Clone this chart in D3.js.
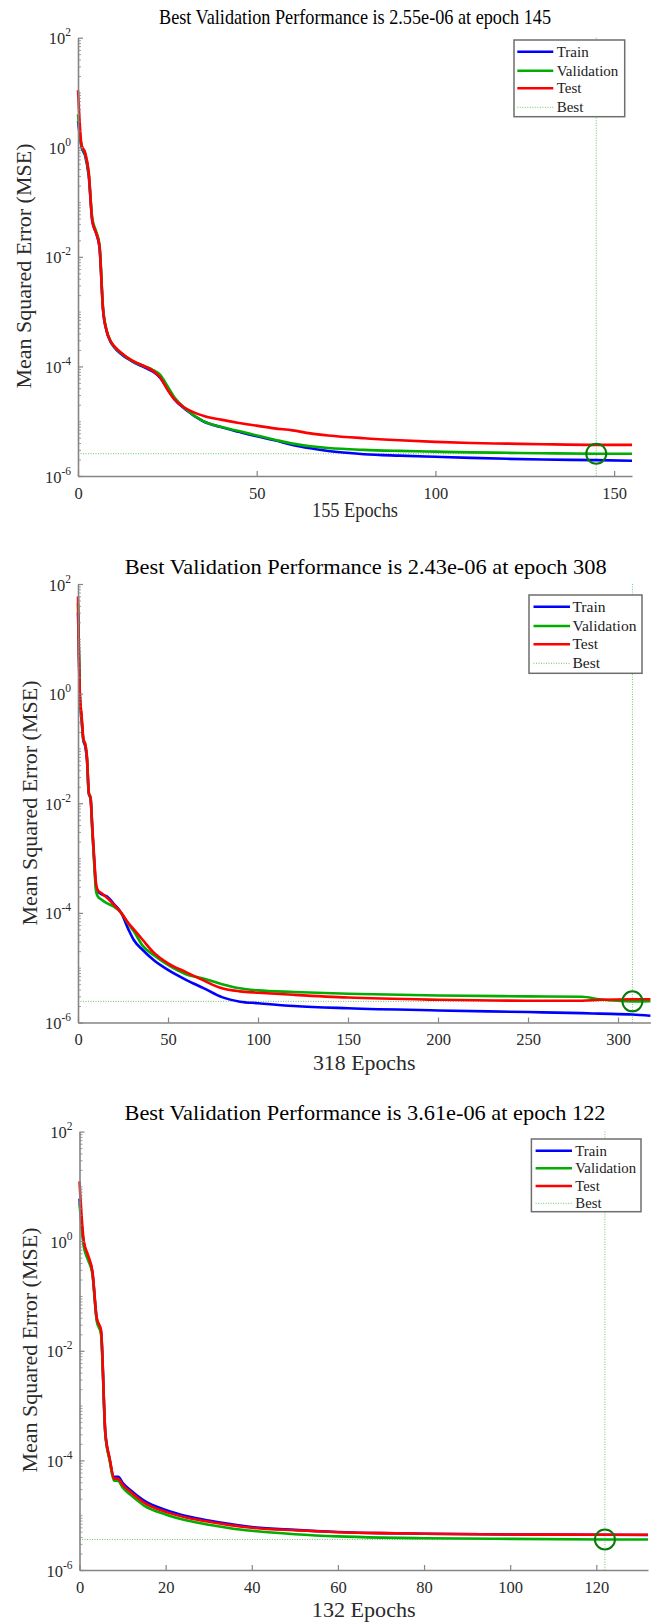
<!DOCTYPE html>
<html>
<head>
	<meta charset="utf-8">
	<title>Performance</title>
	<script src="https://d3js.org/d3.v7.min.js"></script>
	<style>
		body { margin: 0; background: #fff; }
		svg { display: block; font-family: "Liberation Serif", "Times New Roman", serif; }
		.best { stroke: #6cc46c; stroke-width: 1; stroke-dasharray: 1,1.5; }
	</style>
</head>
<body>
	<script>
		var seriesNames = ["Train", "Validation", "Test", "Best"];
		var seriesColors = ["#0000ff", "#00ad00", "#ff0000", "#6cc46c"];
		var titles = ["Best Validation Performance is 2.55e-06 at epoch 145",
			"Best Validation Performance is 2.43e-06 at epoch 308",
			"Best Validation Performance is 3.61e-06 at epoch 122"];
		var xLabels = ["155 Epochs", "318 Epochs", "132 Epochs"];
		var yTickExps = [2, 0, -2, -4, -6];
		var xTicks1 = [0, 50, 100, 150];
		var xTicks2 = [0, 50, 100, 150, 200, 250, 300];
		var xTicks3 = [0, 20, 40, 60, 80, 100, 120];

		// run 1
		var epochs1 = [0,1,2,3,4,5,6,7,8,9,10,12,15,18,21,23,25,27,30,35,40,45,50,55,60,65,70,80,90,100,110,120,130,145,155];
		var train1 = [3,1.0,0.7,0.3,0.045,0.028,0.015,1.1e-3,4.4e-4,2.9e-4,2.3e-4,1.7e-4,1.25e-4,1.0e-4,8.0e-5,6.2e-5,3.9e-5,2.5e-5,1.65e-5,1.0e-5,7.8e-6,6.4e-6,5.3e-6,4.5e-6,3.7e-6,3.2e-6,2.85e-6,2.5e-6,2.35e-6,2.24e-6,2.14e-6,2.06e-6,2.0e-6,1.95e-6,1.9e-6];
		var valid1 = [4,1.05,0.75,0.33,0.05,0.03,0.017,1.2e-3,4.6e-4,3.0e-4,2.35e-4,1.75e-4,1.28e-4,1.04e-4,8.6e-5,7.0e-5,4.4e-5,2.7e-5,1.7e-5,1.0e-5,7.9e-6,6.6e-6,5.5e-6,4.6e-6,3.9e-6,3.5e-6,3.25e-6,3.0e-6,2.87e-6,2.78e-6,2.7e-6,2.65e-6,2.6e-6,2.55e-6,2.55e-6];
		var test1 = [11,1.1,0.8,0.35,0.045,0.028,0.016,1.1e-3,4.5e-4,3.0e-4,2.4e-4,1.8e-4,1.3e-4,1.05e-4,8.3e-5,6.3e-5,3.8e-5,2.5e-5,1.74e-5,1.26e-5,1.07e-5,9.3e-6,8.3e-6,7.4e-6,6.8e-6,6.0e-6,5.5e-6,4.9e-6,4.5e-6,4.2e-6,4.0e-6,3.9e-6,3.8e-6,3.7e-6,3.7e-6];
		var best1 = [145, 2.55e-6];

		// run 2
		var epochs2 = [0,1,2,3,4,5,6,7,8,9,10,11,13,16,20,24,28,31,36,42,50,60,70,80,90,100,120,150,200,250,280,290,308,318];
		var train2 = [30,0.9,0.33,0.14,0.11,0.06,0.015,0.012,3.0e-3,9e-4,3.0e-4,2.5e-4,2.2e-4,2.0e-4,1.45e-4,1.0e-4,5.0e-5,3.2e-5,2.1e-5,1.38e-5,9.1e-6,6.0e-6,4.2e-6,2.9e-6,2.4e-6,2.25e-6,2.0e-6,1.82e-6,1.66e-6,1.55e-6,1.48e-6,1.45e-6,1.4e-6,1.33e-6];
		var valid2 = [45,1.0,0.35,0.14,0.12,0.065,0.015,0.013,3.0e-3,8e-4,2.5e-4,2.0e-4,1.75e-4,1.5e-4,1.3e-4,1.0e-4,6.3e-5,4.6e-5,2.5e-5,1.7e-5,1.12e-5,7.6e-6,6.3e-6,5.0e-6,4.2e-6,3.85e-6,3.6e-6,3.35e-6,3.1e-6,3.0e-6,2.95e-6,2.65e-6,2.43e-6,2.45e-6];
		var test2 = [59,1.0,0.4,0.15,0.12,0.07,0.016,0.012,3.5e-3,1.0e-3,3.5e-4,2.6e-4,2.3e-4,1.9e-4,1.4e-4,1.0e-4,6.5e-5,5.0e-5,3.2e-5,1.9e-5,1.2e-5,8.3e-6,5.8e-6,4.2e-6,3.7e-6,3.5e-6,3.2e-6,2.85e-6,2.6e-6,2.5e-6,2.5e-6,2.6e-6,2.65e-6,2.65e-6];
		var best2 = [308, 2.43e-6];

		// run 3
		var epochs3 = [0,1,2,3,4,5,6,7,8,9,10,12,15,20,25,30,35,40,50,60,70,80,100,122,132];
		var train3 = [6,0.9,0.5,0.27,0.038,0.022,3.1e-4,1.05e-4,5.0e-5,5.0e-5,3.9e-5,2.8e-5,1.85e-5,1.25e-5,9.6e-6,8.0e-6,6.9e-6,6.1e-6,5.4e-6,4.95e-6,4.7e-6,4.6e-6,4.45e-6,4.4e-6,4.35e-6];
		var valid3 = [5,0.8,0.45,0.25,0.035,0.02,3.0e-4,1.0e-4,4.3e-5,4.2e-5,3.2e-5,2.3e-5,1.5e-5,1.03e-5,8.0e-6,6.7e-6,5.8e-6,5.2e-6,4.5e-6,4.1e-6,3.9e-6,3.8e-6,3.7e-6,3.61e-6,3.6e-6];
		var test3 = [12.3,1.0,0.55,0.28,0.04,0.024,3.2e-4,1.1e-4,4.7e-5,4.6e-5,3.6e-5,2.6e-5,1.7e-5,1.15e-5,9.0e-6,7.6e-6,6.6e-6,5.9e-6,5.3e-6,4.9e-6,4.7e-6,4.6e-6,4.45e-6,4.4e-6,4.4e-6];
		var best3 = [122, 3.61e-6];

		// SET UP SVG
		var width = 654,
			height = 1624;
		var svg = d3.select("body").append("svg")
			.attr("width", width)
			.attr("height", height);

		// layout of each panel (the three figures were pasted at slightly different sizes)
		var panels = [
			{ epochs: epochs1, series: [train1, valid1, test1], best: best1, xmax: 155, xticks: xTicks1,
			  title: titles[0], xlabel: xLabels[0],
			  left: 78, right: 632, top: 37.7, bottom: 476,
			  titleX: 355, titleY: 24, titleLen: 392, xlabY: 517, xlabLen: 86, ylabX: 31, ylabY: 266,
			  legend: { x: 514, y: 40, w: 110.7, h: 76.7, rows: [51.7, 70.7, 88.3, 107.3], lineX: [517.3, 553.3], textX: 556.7, size: 15 } },
			{ epochs: epochs2, series: [train2, valid2, test2], best: best2, xmax: 318, xticks: xTicks2,
			  title: titles[1], xlabel: xLabels[1],
			  left: 78, right: 650.4, top: 584, bottom: 1022.5,
			  titleX: 365.7, titleY: 574, titleLen: 482, xlabY: 1069.5, xlabLen: 102.5, ylabX: 37, ylabY: 803,
			  legend: { x: 529, y: 595, w: 113, h: 78.3, rows: [606.7, 626, 644.3, 663.3], lineX: [533.5, 570], textX: 572.4, size: 15.6 } },
			{ epochs: epochs3, series: [train3, valid3, test3], best: best3, xmax: 132, xticks: xTicks3,
			  title: titles[2], xlabel: xLabels[2],
			  left: 79.5, right: 648, top: 1131.6, bottom: 1570,
			  titleX: 365, titleY: 1120, titleLen: 481, xlabY: 1616.7, xlabLen: 103.8, ylabX: 37, ylabY: 1350,
			  legend: { x: 531.4, y: 1139, w: 109.6, h: 72.7, rows: [1150.7, 1168.3, 1186, 1203.3], lineX: [535.6, 572], textX: 575.3, size: 14.8 } }
		];

		// minor log ticks 2..9 x 10^k plus the odd decades
		var minorTicks = [];
		for (var k = -6; k < 2; k++) {
			for (var m = 1; m < 10; m++) {
				if (m == 1 && k % 2 == 0) continue;
				minorTicks.push(m * Math.pow(10, k));
			}
		}

		function drawPanel(p) {
			var g = svg.append("g");
			var x = d3.scaleLinear().domain([0, p.xmax]).range([p.left, p.right]);
			var y = d3.scaleLog().domain([1e-6, 1e2]).range([p.bottom, p.top]);

			// title
			g.append("text")
				.attr("x", p.titleX).attr("y", p.titleY)
				.attr("text-anchor", "middle")
				.attr("font-size", 22)
				.attr("textLength", p.titleLen).attr("lengthAdjust", "spacingAndGlyphs")
				.attr("fill", "#000")
				.text(p.title);

			// best epoch guide lines
			var bx = x(p.best[0]), by = y(p.best[1]);
			g.append("line").attr("class", "best")
				.attr("x1", bx).attr("x2", bx).attr("y1", y(1e2)).attr("y2", y(1e-6));
			g.append("line").attr("class", "best")
				.attr("x1", x(0)).attr("x2", x(p.xmax)).attr("y1", by).attr("y2", by);

			// curves: train, validation, test (test on top)
			var line = d3.line()
				.x(function(d) { return x(d[0]); })
				.y(function(d) { return y(d[1]); })
				.curve(d3.curveMonotoneX);
			p.series.forEach(function(s, i) {
				g.append("path")
					.datum(d3.zip(p.epochs, s))
					.attr("d", line)
					.attr("fill", "none")
					.attr("stroke", seriesColors[i])
					.attr("stroke-width", 2.6)
					.attr("stroke-linejoin", "round");
			});

			// best circle
			g.append("circle")
				.attr("cx", bx).attr("cy", by).attr("r", 10)
				.attr("fill", "none")
				.attr("stroke", "#087a08")
				.attr("stroke-width", 2);

			// x axis, ticks pointing in
			var gx = g.append("g")
				.attr("transform", "translate(0," + p.bottom + ")")
				.attr("color", "#858585")
				.call(d3.axisBottom(x).tickValues(p.xticks).tickSizeInner(-5).tickSizeOuter(0).tickPadding(10.8));
			gx.select(".domain").attr("stroke-width", 1.6);
			gx.selectAll(".tick line").attr("stroke-width", 1.2);
			gx.selectAll(".tick text")
				.attr("font-size", 16.5)
				.attr("font-family", "Liberation Serif, serif")
				.attr("fill", "#2a2a2a");

			// y axis: minor then major ticks
			var gym = g.append("g")
				.attr("transform", "translate(" + p.left + ",0)")
				.attr("color", "#858585")
				.call(d3.axisLeft(y).tickValues(minorTicks).tickSizeInner(-3).tickSizeOuter(0).tickFormat(""));
			gym.select(".domain").remove();
			gym.selectAll(".tick line").attr("stroke-width", 0.8);

			var gy = g.append("g")
				.attr("transform", "translate(" + p.left + ",0)")
				.attr("color", "#858585")
				.call(d3.axisLeft(y).tickValues(yTickExps.map(function(e) { return Math.pow(10, e); }))
					.tickSizeInner(-5).tickSizeOuter(0).tickFormat(""));
			gy.select(".domain").attr("stroke-width", 1.6);
			gy.selectAll(".tick line").attr("stroke-width", 1.2);

			// 10^k labels
			yTickExps.forEach(function(e) {
				var t = g.append("text")
					.attr("x", p.left - 7)
					.attr("y", y(Math.pow(10, e)) + 6.5)
					.attr("text-anchor", "end")
					.attr("font-size", 16.5)
					.attr("fill", "#2a2a2a");
				t.append("tspan").text("10");
				t.append("tspan").attr("dy", -8).attr("font-size", 11.5).text(e);
			});

			// axis labels
			g.append("text")
				.attr("x", (p.left + p.right) / 2).attr("y", p.xlabY)
				.attr("text-anchor", "middle")
				.attr("font-size", 21.8)
				.attr("textLength", p.xlabLen).attr("lengthAdjust", "spacingAndGlyphs")
				.attr("fill", "#2a2a2a")
				.text(p.xlabel);
			g.append("text")
				.attr("transform", "translate(" + p.ylabX + "," + p.ylabY + ") rotate(-90)")
				.attr("text-anchor", "middle")
				.attr("font-size", 22)
				.attr("fill", "#2a2a2a")
				.text("Mean Squared Error (MSE)");

			// legend box
			var L = p.legend;
			var lg = g.append("g");
			lg.append("rect")
				.attr("x", L.x).attr("y", L.y).attr("width", L.w).attr("height", L.h)
				.attr("fill", "#fff")
				.attr("stroke", "#6e6e6e")
				.attr("stroke-width", 1.5);
			seriesNames.forEach(function(name, i) {
				var ly = L.rows[i];
				var ln = lg.append("line")
					.attr("x1", L.lineX[0]).attr("x2", L.lineX[1])
					.attr("y1", ly).attr("y2", ly)
					.attr("stroke", seriesColors[i])
					.attr("stroke-width", i < 3 ? 2.6 : 1);
				if (i == 3) ln.attr("stroke-dasharray", "1,1.5");
				lg.append("text")
					.attr("x", L.textX).attr("y", ly + 5)
					.attr("font-size", L.size)
					.attr("fill", "#222")
					.text(name);
			});
		}

		panels.forEach(drawPanel);
	</script>
</body>
</html>
